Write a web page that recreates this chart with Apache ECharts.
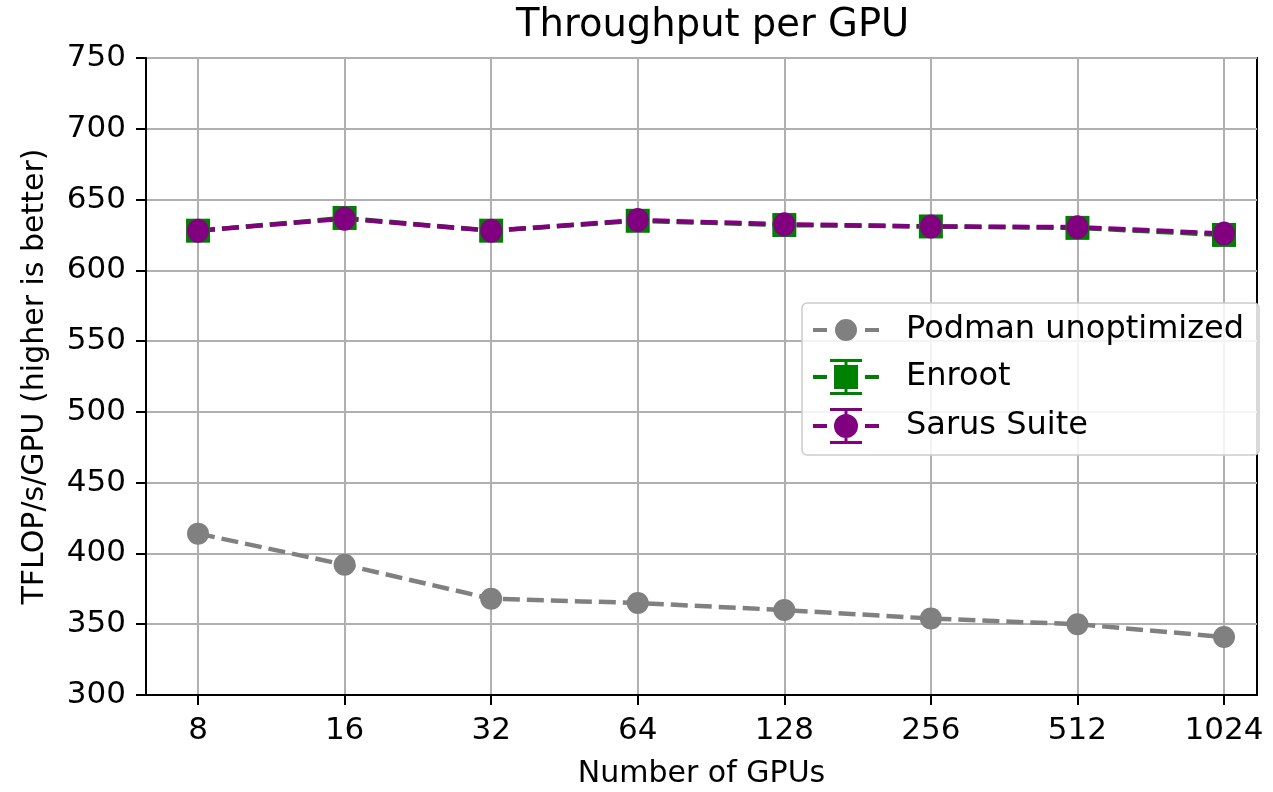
<!DOCTYPE html>
<html>
<head>
<meta charset="utf-8">
<title>Throughput per GPU</title>
<script src="https://cdn.jsdelivr.net/npm/echarts@6/dist/echarts.min.js"></script>
<style>
    html, body { margin: 0; padding: 0; background: #fff; }
    #chart { width: 1273px; height: 792px; }
</style>
</head>
<body>
<div id="chart"></div>
<script>
// Data
// ------------------------------

var gpus = [8, 16, 32, 64, 128, 256, 512, 1024];
var podman = [414, 392, 368, 365, 360, 354, 350, 341];
var enroot = [628, 637, 628, 635, 632, 631, 630, 625];
var sarus = [628, 636.5, 628, 635.5, 632.5, 631, 630.5, 626];
var yTicks = [300, 350, 400, 450, 500, 550, 600, 650, 700, 750];

// x axis is log2 of GPU count
var xPos = gpus.map(function(g) { return Math.log2(g); });

var pairs = function(values) {
    return values.map(function(v, i) { return [xPos[i], v]; });
};

// Legend glyphs (dash - marker - dash, with error bar caps)
var capPath = 'M17,0 H49 V3 H17 Z M17,33 H49 V36 H17 Z M31.5,0 H34.5 V36 H31.5 Z ';
var dashPath = 'M0,16 H14 V20 H0 Z M52,16 H66 V20 H52 Z ';
var iconPodman = 'path://M0,9 H14 V13 H0 Z M52,9 H66 V13 H52 Z M22,11 A11,11 0 1,1 44,11 A11,11 0 1,1 22,11 Z';
var iconEnroot = 'path://' + dashPath + capPath + 'M21,6 H45 V30 H21 Z';
var iconSarus = 'path://' + dashPath + capPath + 'M21,18 A12,12 0 1,1 45,18 A12,12 0 1,1 21,18 Z';

var font = 'DejaVu Sans, sans-serif';

var chart = echarts.init(document.getElementById('chart'));

chart.setOption({
    animation: false,
    textStyle: { fontFamily: font },

    title: {
        text: 'Throughput per GPU',
        left: 511,
        top: 1,
        textStyle: { fontFamily: font, fontSize: 38.5, fontWeight: 'normal', color: '#000' }
    },

    grid: {
        left: 146,
        right: 16,
        top: 58,
        bottom: 97,
        outerBoundsMode: 'none',
        show: true,
        borderColor: '#000',
        borderWidth: 2
    },

    legend: {
        orient: 'vertical',
        left: 802,
        top: 303,
        padding: [11, 15, 11, 11],
        itemWidth: 66,
        itemHeight: 36,
        itemGap: 13,
        backgroundColor: 'rgba(255,255,255,0.85)',
        borderColor: '#cccccc',
        borderWidth: 1.5,
        borderRadius: 5,
        itemStyle: { borderWidth: 0 },
        textStyle: { fontFamily: font, fontSize: 32, color: '#000', padding: [0, 0, 0, 22] },
        data: [
            { name: 'Podman unoptimized', icon: iconPodman },
            { name: 'Enroot', icon: iconEnroot },
            { name: 'Sarus Suite', icon: iconSarus }
        ]
    },

    xAxis: {
        type: 'value',
        min: 2.645,
        max: 10.225,
        name: 'Number of GPUs',
        nameLocation: 'middle',
        nameGap: 64,
        nameTextStyle: { fontFamily: font, fontSize: 30, color: '#000' },
        axisLine: { show: true, lineStyle: { color: '#000', width: 2 } },
        axisTick: {
            show: true,
            length: 10,
            customValues: xPos,
            lineStyle: { color: '#000', width: 2 }
        },
        axisLabel: {
            customValues: xPos,
            margin: 20,
            fontFamily: font,
            fontSize: 31,
            color: '#000',
            formatter: function(v) { return String(Math.round(Math.pow(2, v))); }
        },
        splitLine: { show: true, lineStyle: { color: '#b0b0b0', width: 2 } }
    },

    yAxis: {
        type: 'value',
        min: yTicks[0],
        max: yTicks[yTicks.length - 1],
        interval: 50,
        name: 'TFLOP/s/GPU (higher is better)',
        nameLocation: 'middle',
        nameGap: 96,
        nameTextStyle: { fontFamily: font, fontSize: 30, color: '#000' },
        axisLine: { show: true, lineStyle: { color: '#000', width: 2 } },
        axisTick: { show: true, length: 10, lineStyle: { color: '#000', width: 2 } },
        axisLabel: { margin: 20, fontFamily: font, fontSize: 31, color: '#000' },
        splitLine: { show: true, lineStyle: { color: '#b0b0b0', width: 2 } }
    },

    series: [
        {
            name: 'Podman unoptimized',
            type: 'line',
            data: pairs(podman),
            color: '#808080',
            symbol: 'circle',
            symbolSize: 22,
            lineStyle: { type: [17, 7], width: 4.5, color: '#808080' },
            itemStyle: { color: '#808080', borderWidth: 0 }
        },
        {
            name: 'Enroot',
            type: 'line',
            data: pairs(enroot),
            color: '#008000',
            symbol: 'rect',
            symbolSize: 24,
            lineStyle: { type: [17, 7], width: 4.5, color: '#008000' },
            itemStyle: { color: '#008000', borderWidth: 0 }
        },
        {
            name: 'Sarus Suite',
            type: 'line',
            data: pairs(sarus),
            color: '#800080',
            symbol: 'circle',
            symbolSize: [22, 24],
            lineStyle: { type: [17, 7], width: 4.5, color: '#800080' },
            itemStyle: { color: '#800080', borderWidth: 0 }
        }
    ]
});
</script>
</body>
</html>
